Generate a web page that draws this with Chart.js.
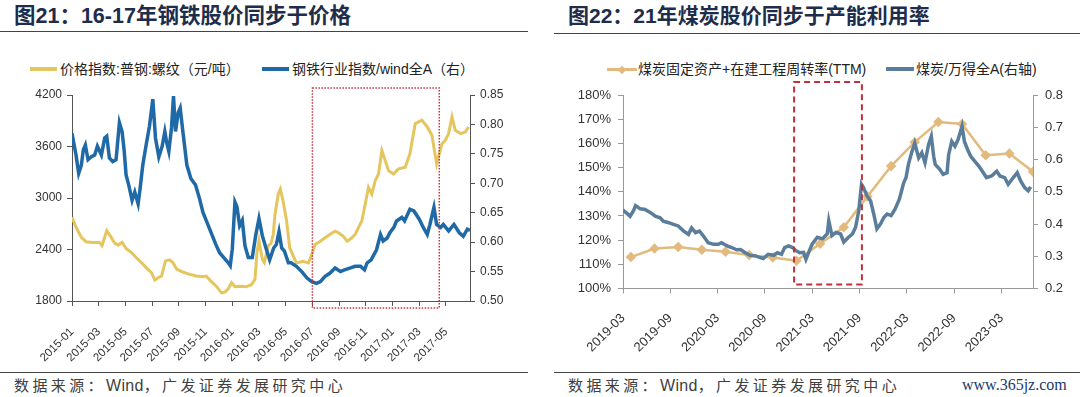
<!DOCTYPE html>
<html lang="zh-CN">
<head>
<meta charset="utf-8">
<script src="https://cdn.jsdelivr.net/npm/chart.js@4.4.1/dist/chart.umd.min.js"></script>
<style>
  body { margin:0; width:1080px; height:397px; background:#fff; position:relative; overflow:hidden;
    font-family:"Noto Sans CJK SC", "Liberation Sans", sans-serif; }
  .title { position:absolute; top:3px; line-height:26px; font-size:21px; font-weight:bold; color:#1d2d4b;
    white-space:nowrap; font-family:"Liberation Sans", "Noto Sans CJK SC", sans-serif; }
  .rule { position:absolute; height:0; border-top:1px solid #444; }
  .leg { position:absolute; top:60px; line-height:18px; font-size:14px; color:#222; white-space:nowrap;
    font-family:"Liberation Sans", "Noto Sans CJK SC", sans-serif; }
  .sw { position:absolute; height:4px; }
  .dia { position:absolute; width:6px; height:6px; background:#E2BA7E; transform:rotate(45deg); }
  .source { position:absolute; top:375px; line-height:20px; font-size:15px; color:#404040; letter-spacing:3.4px;
    white-space:nowrap; font-family:"Noto Sans CJK SC", "Liberation Sans", sans-serif; }
  .source span { letter-spacing:0.3px; font-family:"Liberation Sans", sans-serif; font-size:16px; }
  .mark { position:absolute; top:375px; line-height:20px; font-size:16px; color:#1c3a6b; white-space:nowrap;
    font-family:"Liberation Serif", "DejaVu Serif", serif; }
  canvas { position:absolute; top:0; }
</style>
</head>
<body>
<div class="title" style="left:14px;font-size:21.5px">图21：16-17年钢铁股价同步于价格</div>
<div class="rule" style="top:31px;left:0;width:528px"></div>
<div class="title" style="left:568px">图22：21年煤炭股价同步于产能利用率</div>
<div class="rule" style="top:33px;left:554px;width:526px"></div>

<div class="sw" style="left:30px;top:67px;width:27px;background:#E5C55E"></div>
<div class="leg" style="left:60px">价格指数:普钢:螺纹（元/吨）</div>
<div class="sw" style="left:262px;top:67px;width:27px;background:#1F69A6"></div>
<div class="leg" style="left:292px">钢铁行业指数/wind全A（右）</div>

<div class="sw" style="left:607px;top:68px;width:30px;height:3px;background:#E2BA7E"></div>
<div class="dia" style="left:619px;top:66.5px"></div>
<div class="leg" style="left:638px">煤炭固定资产+在建工程周转率(TTM)</div>
<div class="sw" style="left:886px;top:67px;width:28px;background:#5A7D9B"></div>
<div class="leg" style="left:916px">煤炭/万得全A(右轴)</div>

<canvas id="steelChart" width="540" height="370" style="left:0"></canvas>
<canvas id="coalChart" width="540" height="370" style="left:540px"></canvas>

<div class="rule" style="top:372px;left:0;width:528px"></div>
<div class="rule" style="top:372px;left:554px;width:526px"></div>
<div class="source" style="left:14px">数据来源：<span>Wind</span>，广发证券发展研究中心</div>
<div class="source" style="left:568px">数据来源：<span>Wind</span>，广发证券发展研究中心</div>
<div class="mark" style="left:962px">www.365jz.com</div>

<script>
// 图21: x = months since 2015-01
const steelTicks = ['2015-01','2015-03','2015-05','2015-07','2015-09','2015-11','2016-01','2016-03','2016-05','2016-07','2016-09','2016-11','2017-01','2017-03','2017-05'];

const rebarMonth = [0,0.3,0.7,1.05,1.55,2.05,2.25,2.6,2.85,3.2,3.45,3.75,4.05,4.45,4.8,5.2,5.55,5.95,6.2,6.45,6.7,7.0,7.3,7.55,7.85,8.3,8.8,9.3,9.8,10.05,10.4,10.8,11.2,11.45,11.7,11.95,12.2,12.55,13.05,13.45,13.7,13.85,14.0,14.25,14.4,14.7,14.9,15.07,15.2,15.45,15.6,15.8,16.07,16.3,16.8,17.3,17.7,17.95,18.2,18.6,18.95,19.3,19.7,19.95,20.3,20.6,20.95,21.2,21.45,21.7,21.95,22.2,22.45,22.7,22.95,23.2,23.45,23.7,24.07,24.45,24.95,25.3,25.7,25.95,26.2,26.6,26.95,27.3,27.7,27.95,28.2,28.45,28.7,29.1,29.45,29.7];
const rebarPrice = [2777,2659,2542,2491,2483,2483,2444,2620,2561,2475,2452,2483,2412,2365,2307,2248,2189,2130,2044,2071,2091,2267,2279,2248,2169,2138,2111,2091,2083,2091,2032,1973,1895,1903,1942,2013,1966,1973,1966,1993,2052,2365,2503,2287,2248,2444,2470,2575,2810,3050,3104,2967,2732,2419,2243,2262,2243,2340,2458,2497,2536,2575,2614,2595,2556,2497,2536,2575,2654,2732,2928,3123,3045,3202,3280,3554,3437,3319,3280,3339,3358,3515,3867,3887,3906,3828,3730,3397,3632,3671,3750,3946,3789,3750,3769,3828];

const steelMonth = [0,0.3,0.5,0.7,0.85,1.0,1.2,1.45,1.7,1.9,2.2,2.45,2.6,2.8,3.05,3.3,3.55,3.75,3.9,4.05,4.25,4.5,4.7,4.95,5.1,5.3,5.55,5.8,6.05,6.25,6.5,6.75,6.95,7.1,7.25,7.45,7.6,7.75,7.95,8.1,8.3,8.6,8.9,9.25,9.55,9.8,10.1,10.4,10.75,11.05,11.35,11.7,11.85,12.0,12.2,12.35,12.55,12.75,12.95,13.2,13.5,13.75,14.0,14.25,14.55,14.8,15.1,15.3,15.5,15.7,15.9,16.2,16.4,16.8,17.2,17.6,17.95,18.3,18.6,18.95,19.3,19.7,20.1,20.4,20.8,21.2,21.6,21.9,22.1,22.4,22.8,23.1,23.3,23.6,23.8,24.1,24.3,24.7,24.9,25.3,25.6,26.0,26.3,26.6,26.8,27.1,27.3,27.6,27.8,28.2,28.6,29.0,29.3,29.6,29.8];
const steelRatio = [0.785,0.748,0.717,0.731,0.757,0.765,0.740,0.745,0.748,0.763,0.748,0.777,0.780,0.743,0.737,0.740,0.803,0.788,0.757,0.714,0.697,0.671,0.685,0.665,0.691,0.731,0.765,0.797,0.843,0.777,0.745,0.763,0.788,0.768,0.754,0.794,0.848,0.788,0.820,0.828,0.788,0.731,0.708,0.697,0.674,0.651,0.634,0.617,0.597,0.582,0.574,0.565,0.560,0.588,0.668,0.660,0.628,0.637,0.594,0.574,0.574,0.611,0.640,0.611,0.588,0.570,0.590,0.596,0.618,0.590,0.585,0.565,0.565,0.559,0.550,0.539,0.533,0.530,0.533,0.542,0.547,0.556,0.550,0.553,0.556,0.559,0.559,0.553,0.565,0.570,0.587,0.613,0.602,0.607,0.616,0.625,0.636,0.642,0.636,0.656,0.653,0.639,0.625,0.613,0.630,0.659,0.630,0.625,0.630,0.619,0.630,0.616,0.610,0.622,0.620];

const steelBox = [18, 27.5];

// 图22: x = months since 2019-03
const coalTicks = ['2019-03','2019-09','2020-03','2020-09','2021-03','2021-09','2022-03','2022-09','2023-03'];

const turnoverMonth = [1,4,7,10,13,16,19,22,25,28,31,34,37,40,43,46,49,52];
const turnoverPct = [113.0,116.5,117.2,116.0,115.2,113.8,112.8,111.5,118.5,125.3,138.0,150.6,160.5,168.8,168.0,155.1,155.8,148.3];

const coalMonth = [0,0.5,0.9,1.3,1.6,2.2,2.8,3.5,4.1,4.7,5.1,5.8,6.4,7.0,7.7,8.3,8.7,9.2,9.7,10.2,10.8,11.5,12.1,12.5,13.2,13.8,14.4,14.9,15.5,16.1,16.8,17.4,17.8,18.4,19.1,19.6,20.1,20.5,21.0,21.5,21.9,22.4,22.9,23.2,23.6,24.0,24.65,25.3,25.9,26.1,26.5,27.0,27.6,28.0,28.6,29.1,29.5,29.9,30.25,30.5,30.95,31.4,31.8,32.2,32.65,33.1,33.5,34.0,34.5,35.05,35.6,35.9,36.2,36.6,37.0,37.5,37.9,38.3,38.75,39.1,39.4,39.6,40.2,40.6,41.1,41.3,41.7,42.1,42.5,43.0,43.3,43.7,44.1,44.6,45.15,45.7,46.1,46.75,47.4,47.8,48.4,48.85,49.5,50.0,50.45,50.95,51.4,51.7];
const coalRatio = [0.443,0.433,0.424,0.440,0.457,0.447,0.445,0.435,0.424,0.419,0.409,0.404,0.399,0.394,0.378,0.368,0.388,0.373,0.378,0.363,0.342,0.337,0.337,0.342,0.332,0.327,0.320,0.321,0.311,0.303,0.301,0.296,0.293,0.306,0.303,0.311,0.306,0.327,0.332,0.327,0.318,0.311,0.312,0.290,0.315,0.338,0.359,0.354,0.369,0.410,0.364,0.374,0.369,0.344,0.359,0.369,0.390,0.441,0.523,0.513,0.487,0.472,0.431,0.385,0.400,0.421,0.431,0.426,0.446,0.477,0.528,0.544,0.585,0.621,0.651,0.605,0.621,0.590,0.646,0.672,0.610,0.585,0.569,0.554,0.559,0.615,0.656,0.641,0.662,0.703,0.656,0.631,0.610,0.595,0.579,0.559,0.544,0.549,0.564,0.549,0.544,0.523,0.544,0.559,0.533,0.513,0.503,0.515];

const coalBox = [21.7, 30.3];

const pts = (xs, ys) => xs.map((x, i) => ({ x, y: ys[i] }));

// red frame drawn over the plot, x in data units, y as offsets from the plot edges
function framePlugin(range, topOff, bottomOff, dash, width, color){
  return {
    id: 'frame',
    afterDraw(chart){
      const { ctx, chartArea, scales } = chart;
      const x0 = scales.x.getPixelForValue(range[0]);
      const x1 = scales.x.getPixelForValue(range[1]);
      const y0 = chartArea.top + topOff, y1 = chartArea.bottom + bottomOff;
      ctx.save();
      ctx.strokeStyle = color;
      ctx.lineWidth = width;
      ctx.setLineDash(dash);
      ctx.strokeRect(x0, y0, x1 - x0, y1 - y0);
      ctx.restore();
    }
  };
}

function axisGrid(color){
  return { display:true, drawOnChartArea:false, drawTicks:true, tickLength:5, color };
}

const steelFont = { family:'Liberation Sans', size:12 };
new Chart(document.getElementById('steelChart'), {
  type: 'line',
  data: { datasets: [
    { label:'价格指数:普钢:螺纹（元/吨）', data: pts(rebarMonth, rebarPrice), yAxisID:'y', borderColor:'#E5C55E', borderWidth:3, pointRadius:0, order:2 },
    { label:'钢铁行业指数/wind全A（右）', data: pts(steelMonth, steelRatio), yAxisID:'y1', borderColor:'#1F69A6', borderWidth:3.5, pointRadius:0, order:1 }
  ]},
  options: {
    responsive:false, animation:false,
    layout:{ padding:{ top:95, left:0, right:0, bottom:0 } },
    plugins:{ legend:{ display:false }, tooltip:{ enabled:false } },
    scales:{
      x:{ type:'linear', min:0, max:29.8, afterFit: s => { s.height = 69; },
          grid: axisGrid('#555'), border:{ color:'#555' },
          ticks:{ stepSize:2, includeBounds:false, autoSkip:false, minRotation:45, maxRotation:45, padding:19,
                  color:'#333', font:{ family:'Liberation Sans', size:11.5 }, callback: v => steelTicks[Math.round(v / 2)] } },
      y:{ position:'left', min:1800, max:4200, afterFit: s => { s.width = 72; },
          grid: axisGrid('#555'), border:{ color:'#555' },
          ticks:{ stepSize:600, padding:5, color:'#333', font:steelFont, callback: v => String(v) } },
      y1:{ position:'right', min:0.5, max:0.85, afterFit: s => { s.width = 70; },
          grid: axisGrid('#555'), border:{ color:'#555' },
          ticks:{ stepSize:0.05, padding:5, color:'#333', font:steelFont, callback: v => v.toFixed(2) } }
    }
  },
  plugins:[ framePlugin(steelBox, -7, 7, [1.5, 1.5], 1.5, '#C8323C') ]
});

const coalFont = { family:'Liberation Sans', size:13 };
new Chart(document.getElementById('coalChart'), {
  type: 'line',
  data: { datasets: [
    { label:'煤炭固定资产+在建工程周转率(TTM)', data: pts(turnoverMonth, turnoverPct), yAxisID:'y', borderColor:'#E2BA7E', borderWidth:2.5,
      pointStyle:'rectRot', pointRadius:3.5, pointBackgroundColor:'#E2BA7E', pointBorderColor:'#E2BA7E', order:2 },
    { label:'煤炭/万得全A(右轴)', data: pts(coalMonth, coalRatio), yAxisID:'y1', borderColor:'#5A7D9B', borderWidth:3.5, pointRadius:0, order:1 }
  ]},
  options: {
    responsive:false, animation:false,
    layout:{ padding:{ top:95, left:0, right:0, bottom:0 } },
    plugins:{ legend:{ display:false }, tooltip:{ enabled:false } },
    scales:{
      x:{ type:'linear', min:0, max:52, afterFit: s => { s.height = 81.5; },
          grid: axisGrid('#999'), border:{ color:'#999' },
          ticks:{ stepSize:6, includeBounds:false, autoSkip:false, minRotation:45, maxRotation:45, padding:17,
                  color:'#333', font:coalFont, callback: v => coalTicks[Math.round(v / 6)] } },
      y:{ position:'left', min:100, max:180, afterFit: s => { s.width = 83; },
          grid: axisGrid('#999'), border:{ color:'#999' },
          ticks:{ stepSize:10, padding:7, color:'#333', font:coalFont, callback: v => v + '%' } },
      y1:{ position:'right', min:0.2, max:0.8, afterFit: s => { s.width = 47; },
          grid: axisGrid('#999'), border:{ color:'#999' },
          ticks:{ stepSize:0.1, padding:7, color:'#333', font:coalFont, callback: v => v.toFixed(1) } }
    }
  },
  plugins:[ framePlugin(coalBox, -13, -4, [6, 4], 2, '#C0303A') ]
});
</script>
</body>
</html>
